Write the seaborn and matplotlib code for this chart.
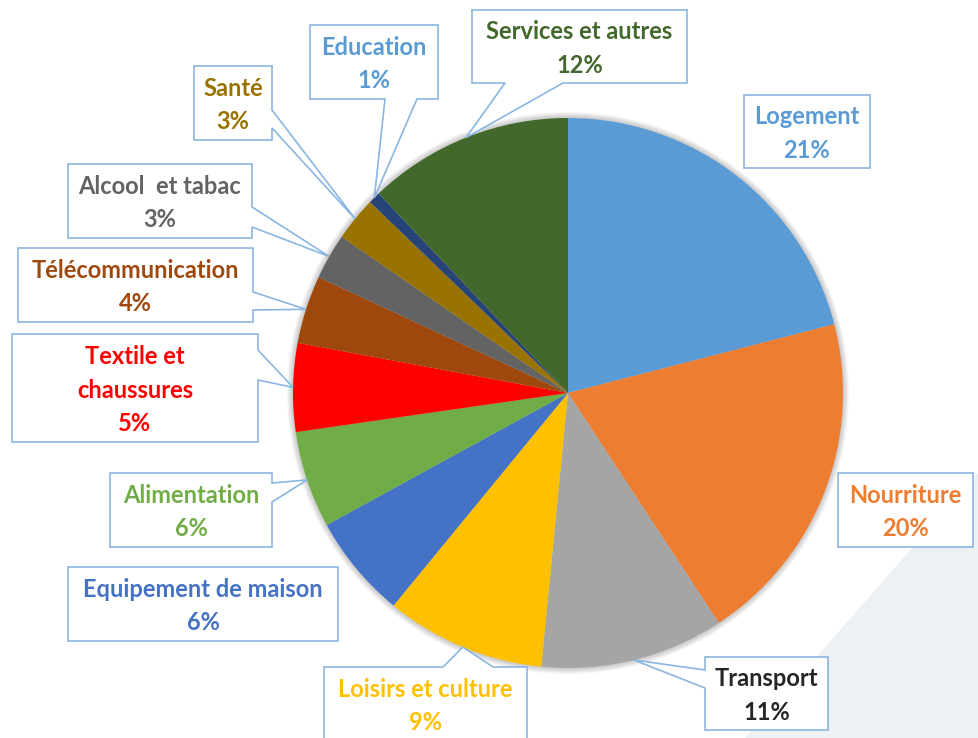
import numpy as np
import seaborn as sns
import matplotlib.pyplot as plt
from matplotlib.patches import Polygon, Circle

# Répartition des dépenses (en %)
categories = ["Logement", "Nourriture", "Transport", "Loisirs et culture",
              "Equipement de maison", "Alimentation", "Textile et\nchaussures",
              "Télécommunication", "Alcool  et tabac", "Santé", "Education",
              "Services et autres"]
values = [21.0, 19.8, 10.8, 9.4, 6.1, 5.7, 5.2, 4.0, 2.7, 2.6, 0.7, 12.1]
slice_colors = ["#5B9BD5", "#ED7D31", "#A5A5A5", "#FFC000", "#4472C4", "#70AD47",
                "#FF0000", "#9E480E", "#636363", "#997300", "#264478", "#43682B"]
text_colors = ["#5B9BD5", "#ED7D31", "#262626", "#FFC000", "#4472C4", "#70AD47",
               "#FF0000", "#9E480E", "#636363", "#997300", "#5B9BD5", "#43682B"]

# position des étiquettes (x0, y0, x1, y1 en pixels) et pointeur éventuel
boxes = [(744, 95, 870, 168), (838, 473, 973, 547), (705, 657, 828, 730),
         (324, 667, 527, 760), (68, 567, 338, 641), (110, 473, 272, 547),
         (12, 334, 258, 442), (18, 248, 253, 322), (68, 164, 252, 238),
         (194, 66, 272, 140), (310, 25, 438, 99), (472, 10, 687, 83)]
pointers = [None, None, ("left", 670, 688), ("top", 443, 493), None,
            ("right", 483, 502), ("right", 350, 380), ("right", 292, 310),
            ("right", 207, 227), ("right", 110, 128), ("bottom", 385, 417),
            ("bottom", 505, 563)]

W, H = 979, 738
cx, cy, R = 568, 393, 275
BORDER = "#8AB6E2"

sns.set_theme(style="white")
plt.rcParams["font.family"] = ["Lato", "DejaVu Sans"]

fig = plt.figure(figsize=(W / 100, H / 100), dpi=100)
ax = fig.add_axes([0, 0, 1, 1])

# décor gris en bas à droite
ax.add_patch(Polygon([(979, 472), (979, 738), (745, 738)], closed=True,
                     facecolor="#EEF1F4", edgecolor="none", zorder=0))

# ombre douce autour du camembert
for k in range(1, 7):
    ax.add_patch(Circle((cx, cy), R + k, facecolor="#000000", alpha=0.035,
                        edgecolor="none", zorder=1))

wedges, _ = ax.pie(values, colors=slice_colors, startangle=-90, counterclock=True,
                   center=(cx, cy), radius=R, wedgeprops=dict(linewidth=0))
for w in wedges:
    w.set_zorder(2)

total = sum(values)


def callout(box, ptr, tip):
    x0, y0, x1, y1 = box
    if ptr is None:
        return [(x0, y0), (x1, y0), (x1, y1), (x0, y1)]
    side, b1, b2 = ptr
    if side == "top":
        return [(x0, y0), (b1, y0), tip, (b2, y0), (x1, y0), (x1, y1), (x0, y1)]
    if side == "right":
        return [(x0, y0), (x1, y0), (x1, b1), tip, (x1, b2), (x1, y1), (x0, y1)]
    if side == "bottom":
        return [(x0, y0), (x1, y0), (x1, y1), (b2, y1), tip, (b1, y1), (x0, y1)]
    return [(x0, y0), (x1, y0), (x1, y1), (x0, y1), (x0, b2), tip, (x0, b1)]


for w, cat, v, box, ptr, tc in zip(wedges, categories, values, boxes, pointers, text_colors):
    mid = np.deg2rad((w.theta1 + w.theta2) / 2)
    tip = (cx + R * np.cos(mid), cy + R * np.sin(mid))
    ax.add_patch(Polygon(callout(box, ptr, tip), closed=True, facecolor="white",
                         edgecolor=BORDER, linewidth=1.2, zorder=3))
    x0, y0, x1, y1 = box
    yc = (y0 + y1) / 2 if y1 <= H else y0 + 37
    ax.text((x0 + x1) / 2, yc + 2, f"{cat}\n{round(v / total * 100)}%",
            ha="center", va="center", multialignment="center", color=tc,
            fontsize=17, fontweight="bold", linespacing=1.55, zorder=4)

ax.set_xlim(0, W)
ax.set_ylim(H, 0)
ax.set_aspect("equal")
ax.axis("off")

fig.savefig("out.png", dpi=100, facecolor="white")
